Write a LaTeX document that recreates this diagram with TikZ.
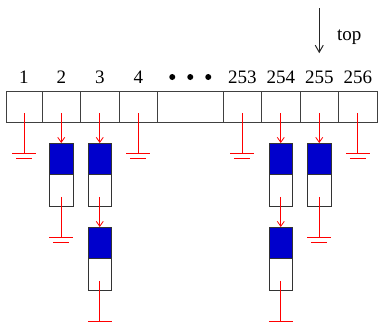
\documentclass[tikz,border=0pt]{standalone}
\usepackage{fontspec}
\setmainfont{Liberation Serif}
\usetikzlibrary{positioning,arrows,arrows.meta}
\definecolor{slotblue}{RGB}{0,0,204}
\tikzset{
>={Straight Barb[length=5pt,width=7pt]},
  cell/.style={
    rectangle,
    draw=black!75, line width=1pt,
    minimum width=38.5pt,
    minimum height=31pt,
    inner sep=0pt, outer sep=0pt},
  num/.style={inner sep=0pt, font=\fontsize{19}{21}\selectfont},
  slot/.style={
    rectangle,
    draw=black!80, line width=1pt,
    minimum width=23.5pt,
    minimum height=31.5pt,
    inner sep=0pt, outer sep=0pt},
  slotfull/.style={slot, fill=slotblue},
  slotfree/.style={slot, fill=white},
  ptr/.style={draw=red, line width=0.8pt, ->},
  topptr/.style={draw=black!85, line width=1pt,
    -{Straight Barb[length=7pt,width=8pt]}},
  ground/.style={draw=red, line width=0.8pt,
    to path={-- (\tikztotarget) +(-12pt,0) -- +(12pt,0)
      +(-8pt,-5pt) -- +(8pt,-5pt)}}
}

\begin{document}
\begin{tikzpicture}[x=1pt,y=1pt]
  \useasboundingbox (0,0) rectangle (381,325);

  % the table
  \node[cell, minimum width=36pt] (c1) at (24,218.5) {};
  \node[cell, right=0pt of c1] (c2) {};
  \node[cell, right=0pt of c2] (c3) {};
  \node[cell, right=0pt of c3] (c4) {};
  \node[cell, right=0pt of c4, minimum width=65.5pt] (gap) {};
  \node[cell, right=0pt of gap] (c253) {};
  \node[cell, right=0pt of c253] (c254) {};
  \node[cell, right=0pt of c254] (c255) {};
  \node[cell, right=0pt of c255] (c256) {};

  \foreach \c/\t in {c1/1,c2/2,c3/3,c4/4,c253/253,c254/254,c255/255,c256/256}
    \node[num, anchor=base] (l\t) at ([yshift=8pt]\c.north) {\t};

  \foreach \i/\dx in {1/-18,2/0,3/18}
    \node[circle, fill=black, inner sep=0pt, minimum size=6pt] (d\i)
      at ([xshift=\dx pt,yshift=14pt]gap.north) {};

  % entries
  \node[slotfull, below=21pt of c2] (e2) {};
  \node[slotfree, below=0pt of e2] (e2b) {};
  \node[slotfull, below=21pt of c3] (e3) {};
  \node[slotfree, below=0pt of e3] (e3b) {};
  \node[slotfull, below=21pt of e3b] (e3n) {};
  \node[slotfree, below=0pt of e3n] (e3nb) {};
  \node[slotfull, below=21pt of c254] (e254) {};
  \node[slotfree, below=0pt of e254] (e254b) {};
  \node[slotfull, below=21pt of e254b] (e254n) {};
  \node[slotfree, below=0pt of e254n] (e254nb) {};
  \node[slotfull, below=21pt of c255] (e255) {};
  \node[slotfree, below=0pt of e255] (e255b) {};

  \draw[ptr] ([yshift=-6.5pt]c2.center) -- (e2.north);
  \draw[ptr] ([yshift=-6.5pt]c3.center) -- (e3.north);
  \draw[ptr] ([yshift=-6.5pt]e3b.center) -- (e3n.north);
  \draw[ptr] ([yshift=-6.5pt]c254.center) -- (e254.north);
  \draw[ptr] ([yshift=-6.5pt]e254b.center) -- (e254n.north);
  \draw[ptr] ([yshift=-6.5pt]c255.center) -- (e255.north);

  % null pointers
  \foreach \c in {c1,c4,c253,c256,e2b,e3nb,e254nb,e255b}{
    \coordinate (\c g) at ([yshift=-47pt]\c.center);
    \draw[ground] ([yshift=-6.5pt]\c.center) to (\c g);
  }

  % top of stack
  \coordinate (topA) at ([yshift=62pt]l255.north);
  \coordinate (topB) at ([yshift=17pt]l255.north);
  \draw[topptr] (topA) -- (topB);
  \node[num, anchor=base west] (toplbl) at (337,285) {top};
\end{tikzpicture}
\end{document}
